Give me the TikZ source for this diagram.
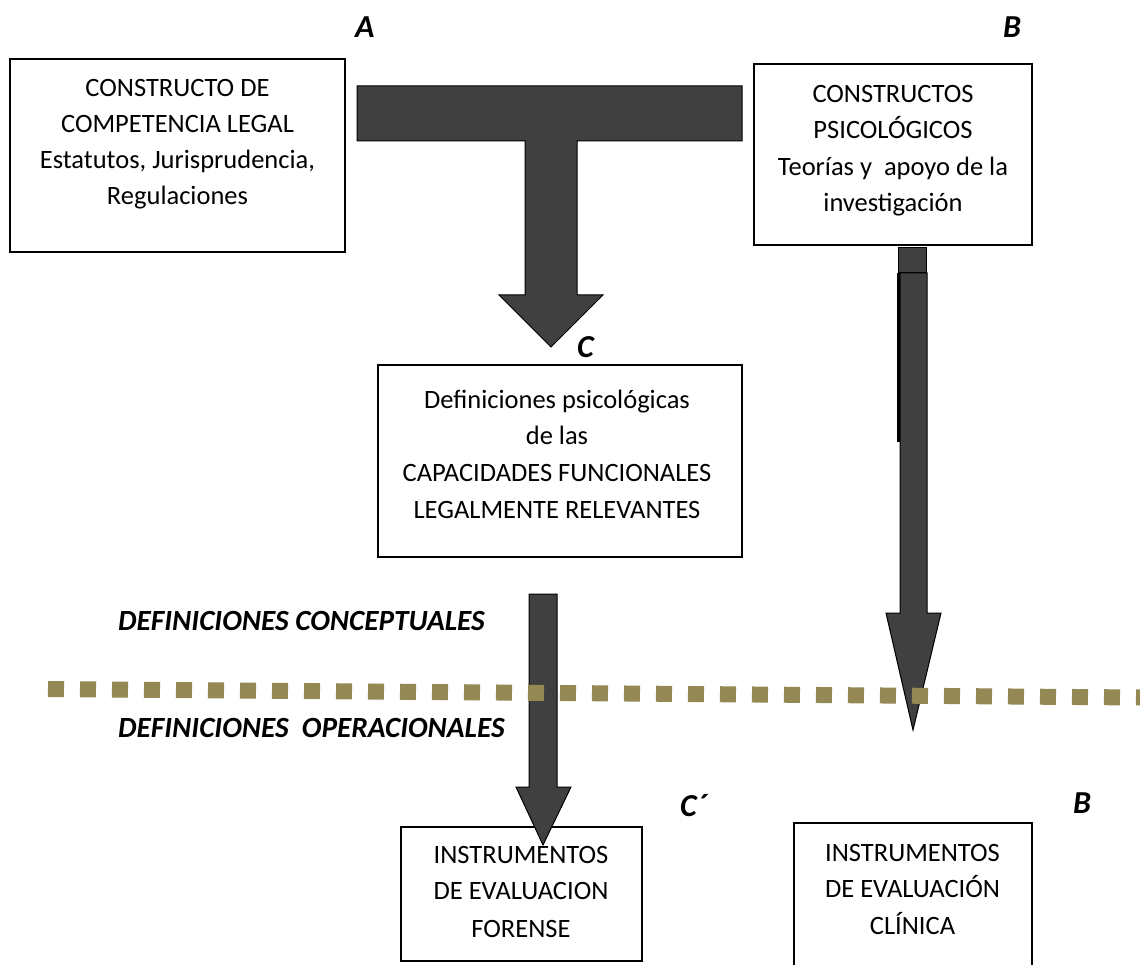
\documentclass[tikz,border=0pt]{standalone}
\usepackage{fontspec}
\setmainfont{Carlito}
\definecolor{arrowgray}{HTML}{404040}
\definecolor{dotolive}{RGB}{148,137,84}
\begin{document}
\begin{tikzpicture}[x=1pt,y=-1pt,
  box/.style={draw=black, line width=1.4pt, inner sep=0pt},
  txt/.style={inner sep=0pt, anchor=base, font=\fontsize{26.5}{32}\selectfont},
  tag/.style={inner sep=0pt, anchor=base west, font=\fontsize{32}{38}\selectfont\bfseries\itshape},
  band/.style={inner sep=0pt, anchor=base west, font=\fontsize{29.3}{35}\selectfont\bfseries\itshape},
  block/.style={fill=arrowgray, draw=black, line width=1pt, line join=miter},
  dots/.style={draw=dotolive, line width=16pt, dash pattern=on 16pt off 16pt}]

\useasboundingbox (0,0) rectangle (1140,965);
\clip (0,0) rectangle (1140,965);

% boxes
\node[box, minimum width=335pt, minimum height=193pt] (legal) at (177.5,155.5) {};
\node[box, minimum width=278pt, minimum height=181pt] (psico) at (893,154.5) {};
\node[box, minimum width=364pt, minimum height=192pt] (defs) at (560,461) {};
\node[box, minimum width=241pt, minimum height=134pt] (forense) at (521.5,894) {};
\node[box, minimum width=238pt, minimum height=150pt] (clinica) at (913,898) {};

% box texts
\node[txt] (legal1) at (177.5,97) {CONSTRUCTO DE};
\node[txt] (legal2) at (177.5,133) {COMPETENCIA LEGAL};
\node[txt] (legal3) at (177.5,169) {Estatutos, Jurisprudencia,};
\node[txt] (legal4) at (177.5,205) {Regulaciones};

\node[txt] (psico1) at (893,103) {CONSTRUCTOS};
\node[txt] (psico2) at (893,139) {PSICOLÓGICOS};
\node[txt] (psico3) at (893,176) {Teorías y~ apoyo de la};
\node[txt] (psico4) at (893,212) {investigación};

\node[txt] (defs1) at (557,408) {Definiciones psicológicas};
\node[txt] (defs2) at (557,444) {de las};
\node[txt] (defs3) at (557,481) {CAPACIDADES FUNCIONALES};
\node[txt] (defs4) at (557,518) {LEGALMENTE RELEVANTES};

\node[txt] (forense1) at (521,863) {INSTRUMENTOS};
\node[txt] (forense2) at (521,899) {DE EVALUACION};
\node[txt] (forense3) at (521,937) {FORENSE};

\node[txt] (clinica1) at (912.5,861) {INSTRUMENTOS};
\node[txt] (clinica2) at (912.5,897) {DE EVALUACIÓN};
\node[txt] (clinica3) at (912.5,934) {CLÍNICA};

% block arrows
\draw[block] (357,86) -- (742,86) -- (742,141) -- (577,141) -- (577,295)
  -- (603,295) -- (551,347) -- (499,295) -- (525,295) -- (525,141)
  -- (357,141) -- cycle;

\draw[block] (898,248) rectangle (926,273);
\fill[black] (897,273) rectangle (900.5,442);
\draw[block] (900,273) -- (927,273) -- (927,613) -- (941,613) -- (913,730)
  -- (886,613) -- (900,613) -- cycle;

\draw[block] (529,594) -- (557,594) -- (557,787) -- (571,787) -- (543,845)
  -- (516,787) -- (529,787) -- cycle;

% dividing line between the two kinds of definitions
\coordinate (divL) at (48,689);
\coordinate (divR) at (1140,697.5);
\draw[dots] (divL) -- (divR);

% labels
\node[band] (concept) at (118,630) {DEFINICIONES CONCEPTUALES};
\node[band] (operac) at (118,737) {DEFINICIONES~ OPERACIONALES};

\node[tag] (tagA) at (355,38) {A};
\node[tag] (tagB) at (1003,38) {B};
\node[tag] (tagC) at (577,357) {C};
\node[tag] (tagCp) at (680,816) {C´};
\node[tag] (tagB2) at (1073,813) {B};
\end{tikzpicture}
\end{document}
